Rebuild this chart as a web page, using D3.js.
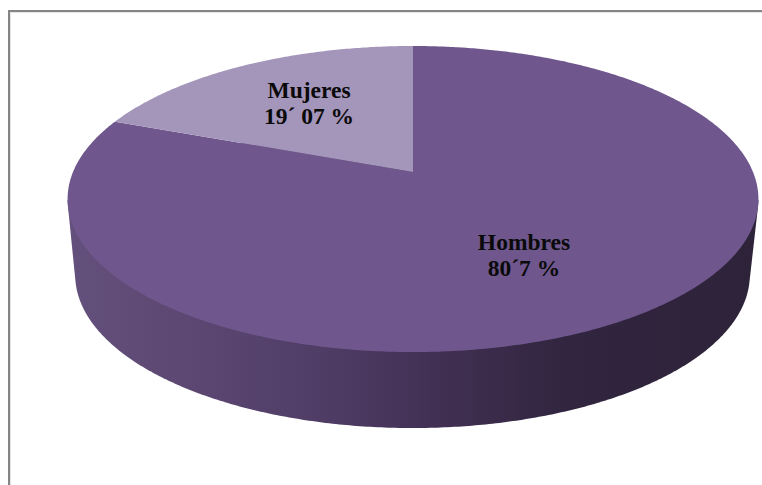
<!DOCTYPE html>
<html>
<head>
<meta charset="utf-8">
<script src="https://cdnjs.cloudflare.com/ajax/libs/d3/7.8.5/d3.min.js"></script>
<style>
html,body{margin:0;padding:0;background:#fff;overflow:hidden}
svg{display:block}
text{font-family:"Liberation Serif",serif;font-weight:bold;fill:#0a0a0a}
</style>
</head>
<body>
<svg id="chart" width="762" height="485"></svg>
<script>
// Share of men and women, drawn as a tilted 3D pie
const categories = ["Hombres", "Mujeres"];
const shares = [80.7, 19.07];
const sliceLabels = ["80´7 %", "19´ 07 %"];
const sliceColors = ["#6f578d", "#a495ba"];
const wallStops = [
  [0, "#64507c"], [0.2, "#5a4670"], [0.38, "#4f3c65"], [0.5, "#453257"],
  [0.62, "#3a2b4a"], [0.72, "#31253f"], [1, "#2d2339"]
];

const width = 762, height = 485;
const svg = d3.select("#chart");

// Perspective of the disc: the near rim looks larger than the far rim,
// so the hub sits above the middle of the outline.
const hub = {x: 413, y: 172};
const persp = 0.1765, lift = -117.9;
const radiusX = 340;
const thickness = 76;

function project(angle, depth = 0) {
  const u = Math.sin(angle), v = Math.cos(angle);
  const w = 1 + persp * v;
  const shrink = depth ? 332 / radiusX : 1;
  return [
    hub.x + (depth ? -0.5 : 0) + radiusX * shrink * u / w,
    (lift * v + hub.y) / w + depth
  ];
}

// Frame: only the top and left sides are visible
const frame = svg.append("g").attr("fill", "none");
frame.append("path").attr("d", "M9,485V11H762").attr("stroke", "#858585").attr("stroke-width", 2);
frame.append("path").attr("d", "M10.5,485V12.5H762").attr("stroke", "#e4e4e4").attr("stroke-width", 1);

// Wall gradient runs left to right along the rim
const x = d3.scaleLinear().domain([0, 1]).range([66, 760]);
const grad = svg.append("defs").append("linearGradient")
  .attr("id", "wall").attr("gradientUnits", "userSpaceOnUse")
  .attr("x1", x(0)).attr("x2", x(1)).attr("y1", 0).attr("y2", 0);
grad.selectAll("stop").data(wallStops).join("stop")
  .attr("offset", d => d[0]).attr("stop-color", d => d[1]);

// Wall: hull of the near half of the top rim and the bottom rim
const step = Math.PI / 360;
const rim = d3.range(0, 2 * Math.PI + step, step);
const wallPts = rim.filter(a => project(a)[1] >= 199).map(a => project(a))
  .concat(rim.map(a => project(a, thickness)));
const hull = d3.polygonHull(wallPts);
svg.append("path")
  .attr("d", d3.line()(hull) + "Z")
  .attr("fill", "url(#wall)");

// Top faces, from the pie layout pushed through the perspective
const pie = d3.pie().sort(null).value(d => d);
const arcs = pie(shares);
const face = svg.append("g");
const line = d3.line();
face.selectAll("path").data(arcs).join("path")
  .attr("d", d => {
    const pts = d3.range(d.startAngle, d.endAngle, step).concat(d.endAngle).map(a => project(a));
    return line([[hub.x, hub.y], ...pts]) + "Z";
  })
  .attr("fill", (d, i) => sliceColors[i]);

// Labels
const labelPos = [[524, 250, 276], [309, 98, 124]];
const labels = svg.append("g").attr("text-anchor", "middle").attr("font-size", 23.5);
categories.forEach((c, i) => {
  const [lx, y1, y2] = labelPos[i];
  labels.append("text").attr("x", lx).attr("y", y1).text(c);
  labels.append("text").attr("x", lx).attr("y", y2).text(sliceLabels[i]);
});
</script>
</body>
</html>
